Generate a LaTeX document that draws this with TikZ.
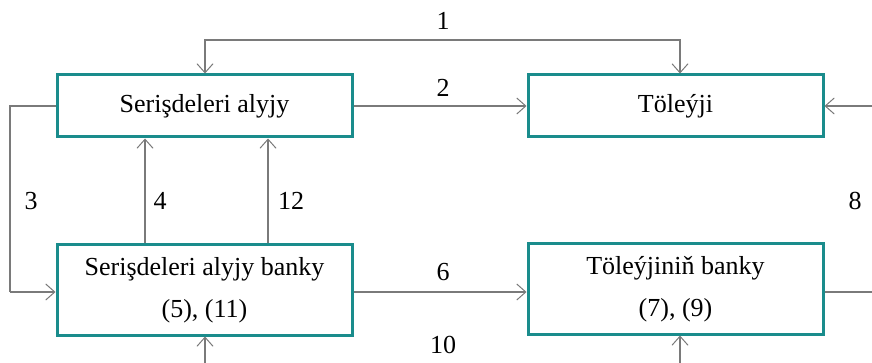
\documentclass[tikz,border=0pt]{standalone}
\usepackage{fontspec}
\setmainfont{Liberation Serif}
\usetikzlibrary{arrows.meta}
\definecolor{boxteal}{HTML}{1A8C8C}
\definecolor{linegray}{HTML}{7A7A7A}
\tikzset{
  box/.style={draw=boxteal, line width=3pt, minimum width=295pt, inner sep=0pt, align=center, font=\fontsize{26}{42}\selectfont},
  conn/.style={draw=linegray, line width=1.3pt, -{Straight Barb[length=9pt,width=16pt,line width=1pt]}},
  plain/.style={draw=linegray, line width=1.3pt},
  lab/.style={font=\fontsize{26}{30}\selectfont, inner sep=0pt}
}
\begin{document}
\begin{tikzpicture}[x=1pt,y=-1pt]
\useasboundingbox (0,0) rectangle (872,363);
\node[box, minimum height=62pt] (A) at (204.5,106) {Serişdeleri alyjy};
\node[box, minimum height=62pt] (B) at (675.5,106) {Töleýji};
\node[box, minimum height=90pt] (C) at (204.5,290) {Serişdeleri alyjy banky\\(5), (11)};
\node[box, minimum height=90pt] (D) at (675.5,289) {Töleýjiniň banky\\(7), (9)};
% 1
\coordinate (t1) at (205,40);
\coordinate (t2) at (680,40);
\draw[conn] (t2) -- (t1) -- (A.north -| t1);
\draw[conn] (t1) -- (t2) -- (B.north -| t2);
\node[lab] (l1) at (443,21) {1};
% 2
\draw[conn] (A.east) -- (B.west);
\node[lab] (l2) at (443,88) {2};
% 3
\coordinate (c3a) at (10,106);
\coordinate (c3b) at (10,292);
\draw[plain] (A.west) -- (c3a) -- (c3b);
\draw[conn] (c3b) -- (C.west |- c3b);
\node[lab] (l3) at (31,201) {3};
% 4
\coordinate (c4) at (145,0);
\draw[conn] (C.north -| c4) -- (A.south -| c4);
\node[lab] (l4) at (160,201) {4};
% 12
\coordinate (c12) at (268,0);
\draw[conn] (C.north -| c12) -- (A.south -| c12);
\node[lab] (l12) at (291,201) {12};
% 6
\coordinate (c6) at (0,292);
\draw[conn] (C.east |- c6) -- (D.west |- c6);
\node[lab] (l6) at (443,272) {6};
% 8
\coordinate (c8a) at (872,106);
\coordinate (c8b) at (872,292);
\draw[conn] (c8a) -- (B.east);
\draw[plain] (D.east |- c8b) -- (c8b);
\node[lab] (l8) at (855,201) {8};
% 10
\coordinate (b1) at (205,363);
\coordinate (b2) at (680,363);
\draw[conn] (b1) -- (C.south -| b1);
\draw[conn] (b2) -- (D.south -| b2);
\node[lab] (l10) at (443,345) {10};
\end{tikzpicture}
\end{document}
